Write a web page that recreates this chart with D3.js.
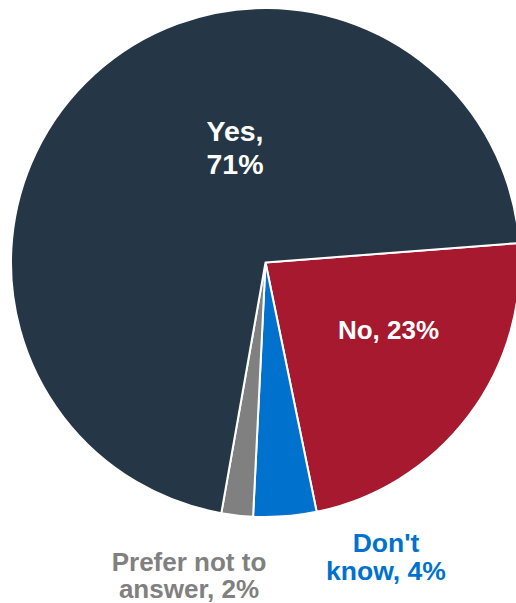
<!DOCTYPE html>
<html><head><meta charset="utf-8">
<script src="https://cdn.jsdelivr.net/npm/d3@7"></script>
<style>html,body{margin:0;padding:0;background:#fff;overflow:hidden}</style>
</head><body>
<svg id="chart" width="516" height="603"></svg>
<script>
const categories = ["No", "Don't know", "Prefer not to answer", "Yes"];
const values = [23, 4, 2, 71];
const colors = ["#A6192E", "#0072CE", "#808080", "#253746"];
const labelLines = [["No, 23%"], ["Don't", "know, 4%"], ["Prefer not to", "answer, 2%"], ["Yes,", "71%"]];
const labelColors = ["#ffffff", "#0072CE", "#808080", "#ffffff"];

const svg = d3.select("#chart");
const cx = 265.5, cy = 262.5, r = 254.5;
const startDeg = 85.6;
const pie = d3.pie().sort(null).value(d => d)
  .startAngle(startDeg * Math.PI / 180)
  .endAngle((startDeg + 360) * Math.PI / 180);
const arcs = pie(values);
const arc = d3.arc().innerRadius(0).outerRadius(r);
const g = svg.append("g").attr("transform", `translate(${cx},${cy})`);
g.selectAll("path").data(arcs).enter().append("path")
  .attr("d", arc)
  .attr("fill", (d, i) => colors[i])
  .attr("stroke", "#fff").attr("stroke-width", 2).attr("stroke-linejoin", "round");

const labelPos = [
  {x: 388.5, y: 339, size: 26, lh: 28},
  {x: 386, y: 552, size: 26.5, lh: 28},
  {x: 189, y: 571, size: 26, lh: 27},
  {x: 235, y: 141, size: 28.5, lh: 33}
];
labelLines.forEach((lines, i) => {
  const p = labelPos[i];
  const t = svg.append("text")
    .attr("text-anchor", "middle")
    .attr("font-family", "Liberation Sans, Arial, sans-serif")
    .attr("font-weight", "bold")
    .attr("font-size", p.size)
    .attr("fill", labelColors[i]);
  lines.forEach((ln, j) => {
    t.append("tspan").attr("x", p.x).attr("y", p.y + j * p.lh).text(ln);
  });
});
</script>
</body></html>
